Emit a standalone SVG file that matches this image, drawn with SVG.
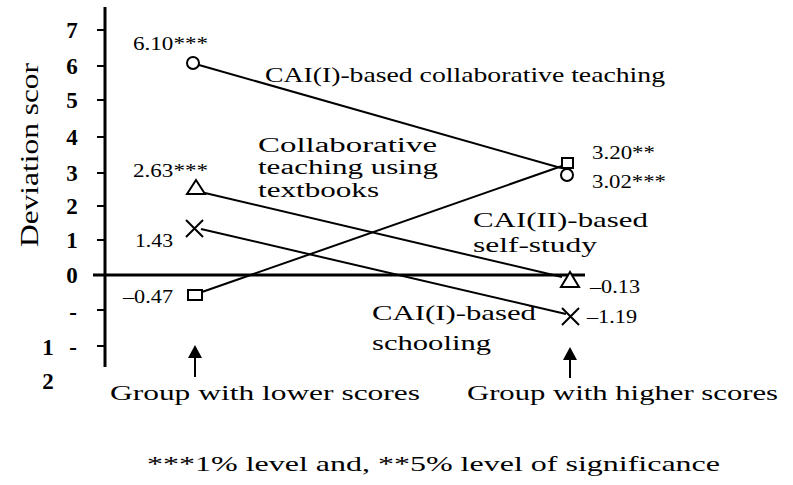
<svg xmlns="http://www.w3.org/2000/svg" width="793" height="485" viewBox="0 0 793 485">
<style>
text{font-family:"Liberation Serif","Times New Roman",serif;fill:#000}
.tick{font-size:23px;font-weight:bold}
.val{font-size:18px}
.lab{font-size:22px}
.lab2{font-size:20px}
.grp{font-size:22px}
.mk{fill:#fff;stroke:#000;stroke-width:2}
.ln{stroke:#000;stroke-width:2;fill:none}
.ax{stroke:#000;stroke-width:3;fill:none}
</style>
<rect width="793" height="485" fill="#fff"/>
<g id="axes">
<line class="ax" x1="105" y1="7" x2="105" y2="367"/>
<line class="ax" x1="93" y1="275" x2="585" y2="275"/>
<g class="ln">
<line x1="97" y1="30" x2="105" y2="30"/>
<line x1="97" y1="66" x2="105" y2="66"/>
<line x1="97" y1="100" x2="105" y2="100"/>
<line x1="97" y1="137" x2="105" y2="137"/>
<line x1="97" y1="173" x2="105" y2="173"/>
<line x1="97" y1="206" x2="105" y2="206"/>
<line x1="97" y1="240" x2="105" y2="240"/>
<line x1="97" y1="310" x2="105" y2="310"/>
<line x1="97" y1="346" x2="105" y2="346"/>
</g>
<g class="tick" text-anchor="middle">
<text x="72" y="38">7</text>
<text x="72" y="74">6</text>
<text x="72" y="108">5</text>
<text x="72" y="145">4</text>
<text x="72" y="181">3</text>
<text x="72" y="214">2</text>
<text x="72" y="248">1</text>
<text x="72" y="283">0</text>
<text x="73" y="320">-</text>
<text x="48" y="355">1</text>
<text x="73" y="355">-</text>
<text x="48" y="389">2</text>
</g>
<text transform="translate(38,155) rotate(-90)" text-anchor="middle" textLength="184" lengthAdjust="spacingAndGlyphs" style="font-size:25px">Deviation scor</text>
</g>
<g id="connectors" class="ln">
<line x1="199" y1="65" x2="561" y2="168"/>
<line x1="202" y1="292" x2="562" y2="166"/>
<line x1="205" y1="193" x2="562" y2="277"/>
<line x1="201" y1="229" x2="566" y2="314"/>
<line x1="195" y1="377" x2="195" y2="356"/>
<line x1="570" y1="378" x2="570" y2="358"/>
</g>
<g id="arrows" fill="#000">
<polygon points="195,345 188,358 202,358"/>
<polygon points="570,347 563,360 577,360"/>
</g>
<g id="series-cai1-collab">
<circle class="mk" cx="193" cy="63" r="6"/>
<circle class="mk" cx="567" cy="175" r="6"/>
<text class="val" x="133" y="50" textLength="75" lengthAdjust="spacingAndGlyphs">6.10***</text>
<text class="val" x="592" y="188" textLength="74" lengthAdjust="spacingAndGlyphs">3.02***</text>
</g>
<g id="series-collab-textbooks">
<rect class="mk" x="188" y="290" width="14" height="10"/>
<rect class="mk" x="562" y="158" width="11" height="10"/>
<text class="val" x="123" y="303" textLength="50" lengthAdjust="spacingAndGlyphs">–0.47</text>
<text class="val" x="592" y="159" textLength="63" lengthAdjust="spacingAndGlyphs">3.20**</text>
</g>
<g id="series-cai2-self">
<polygon class="mk" points="196,180 187,194 205,194"/>
<polygon class="mk" points="570,272 561,287 579,287"/>
<text class="val" x="133" y="177" textLength="75" lengthAdjust="spacingAndGlyphs">2.63***</text>
<text class="val" x="590" y="293" textLength="50" lengthAdjust="spacingAndGlyphs">–0.13</text>
</g>
<g id="series-cai1-school">
<path class="ln" d="M186,220 L203,237 M203,220 L186,237"/>
<path class="ln" d="M562,308 L579,325 M579,308 L562,325"/>
<text class="val" x="135" y="247" textLength="38" lengthAdjust="spacingAndGlyphs">1.43</text>
<text class="val" x="587" y="323" textLength="50" lengthAdjust="spacingAndGlyphs">–1.19</text>
</g>
<g id="labels">
<text class="lab" x="265" y="82" textLength="400" lengthAdjust="spacingAndGlyphs">CAI(I)-based collaborative teaching</text>
<text class="lab2" x="258" y="152" textLength="179" lengthAdjust="spacingAndGlyphs">Collaborative</text>
<text class="lab2" x="258" y="174" textLength="180" lengthAdjust="spacingAndGlyphs">teaching using</text>
<text class="lab2" x="258" y="197" textLength="121" lengthAdjust="spacingAndGlyphs">textbooks</text>
<text class="lab" x="473" y="227" textLength="175" lengthAdjust="spacingAndGlyphs">CAI(II)-based</text>
<text class="lab" x="473" y="252" textLength="124" lengthAdjust="spacingAndGlyphs">self-study</text>
<text class="lab" x="372" y="320" textLength="164" lengthAdjust="spacingAndGlyphs">CAI(I)-based</text>
<text class="lab" x="372" y="350" textLength="119" lengthAdjust="spacingAndGlyphs">schooling</text>
<text class="grp" x="110" y="400" textLength="310" lengthAdjust="spacingAndGlyphs">Group with lower scores</text>
<text class="grp" x="467" y="400" textLength="311" lengthAdjust="spacingAndGlyphs">Group with higher scores</text>
<text class="grp" x="147" y="471" textLength="573" lengthAdjust="spacingAndGlyphs">***1% level and, **5% level of significance</text>
</g>
</svg>
